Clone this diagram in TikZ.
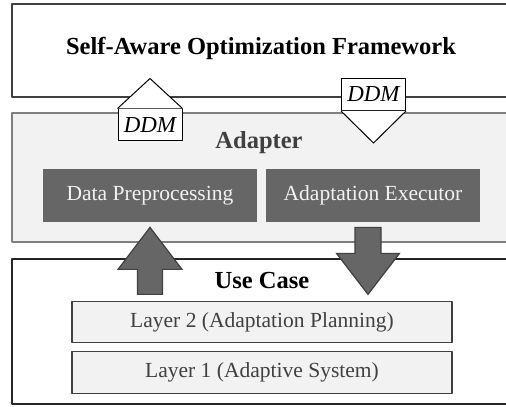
\documentclass[tikz,border=0pt]{standalone}
\usepackage{fontspec}
\setmainfont{Liberation Serif}
\usepackage{tikz}
\usetikzlibrary{positioning}

\definecolor{darkline}{HTML}{404040}
\definecolor{midline}{HTML}{7F7F7F}
\definecolor{paleback}{HTML}{F2F2F2}
\definecolor{boxgray}{HTML}{666666}

\tikzset{
  outerbox/.style={draw=darkline,line width=0.75bp,fill=white,inner sep=0pt},
  adapterbox/.style={draw=midline,line width=0.6bp,fill=paleback,inner sep=0pt},
  heading/.style={font=\fontsize{12.3}{14}\selectfont\bfseries,anchor=base},
  darkbox/.style={fill=boxgray,text=paleback,minimum width=107bp,minimum height=26.5bp,
    inner sep=0pt,font=\fontsize{10.8}{13}\selectfont},
  layerbox/.style={draw=darkline,line width=0.6bp,fill=paleback,text=darkline,
    minimum width=190bp,minimum height=20.75bp,inner sep=0pt,font=\fontsize{10.8}{13}\selectfont},
  ddm/.style={draw=black,line width=0.5bp,fill=white,minimum width=32bp,minimum height=16bp,
    inner sep=0pt,font=\fontsize{11.5}{13}\selectfont\itshape},
  ddmroof/.style={draw=black,line width=0.5bp,fill=white,line join=miter},
  blockarrow/.style={draw=darkline,line width=0.6bp,fill=boxgray,line join=miter},
}

\begin{document}
\begin{tikzpicture}[>=latex,line join=bevel,]
%%
\useasboundingbox (0bp,0bp) rectangle (253bp,203.5bp);
\clip (0bp,0bp) rectangle (253bp,203.5bp);
%
\node (framework) at (131bp,178.25bp) [outerbox,minimum width=250bp,minimum height=46.5bp] {};
  \node (framework_title) at (130.5bp,176bp) [heading] {Self-Aware Optimization Framework};
\node (adapter) at (131bp,114.75bp) [adapterbox,minimum width=250bp,minimum height=64.5bp] {};
  \node (adapter_title) at (129.5bp,129bp) [heading,text=darkline] {Adapter};
\node (usecase) at (131bp,37.75bp) [outerbox,draw=black!85,minimum width=250bp,minimum height=72.5bp] {};
  \node (usecase_title) at (131bp,59bp) [heading] {Use Case};
%
\node (dp) at (75bp,105.75bp) [darkbox] {Data Preprocessing};
  \node (ae) at (186.5bp,105.75bp) [darkbox] {Adaptation Executor};
\node (layer2) at (131bp,42.5bp) [layerbox] {Layer 2 (Adaptation Planning)};
  \node (layer1) at (131bp,17.25bp) [layerbox] {Layer 1 (Adaptive System)};
%
\coordinate (up_tip) at ([yshift=-2.5bp]dp.south);
\coordinate (down_top) at ([xshift=-2.5bp,yshift=-2.5bp]ae.south);
\draw [blockarrow] (up_tip) -- ++(16bp,-21bp) -- ++(-9.75bp,0) -- ++(0,-12.5bp) -- ++(-12.5bp,0) -- ++(0,12.5bp) -- ++(-9.75bp,0) -- cycle;
\draw [blockarrow] ([xshift=-6.5bp]down_top) -- ++(0,-13bp) -- ++(-9.25bp,0) -- ++(15.75bp,-20.5bp) -- ++(15.75bp,20.5bp) -- ++(-9.25bp,0) -- ++(0,13bp) -- cycle;
%
\node (ddm_up) at (75bp,141bp) [ddm] {DDM};
  \draw [ddmroof] (ddm_up.north west) -- ([yshift=15bp]ddm_up.north) -- (ddm_up.north east);
\node (ddm_down) at (186.75bp,156.25bp) [ddm] {DDM};
  \draw [ddmroof] (ddm_down.south west) -- ([yshift=-16bp]ddm_down.south) -- (ddm_down.south east);
%
\end{tikzpicture}
\end{document}
